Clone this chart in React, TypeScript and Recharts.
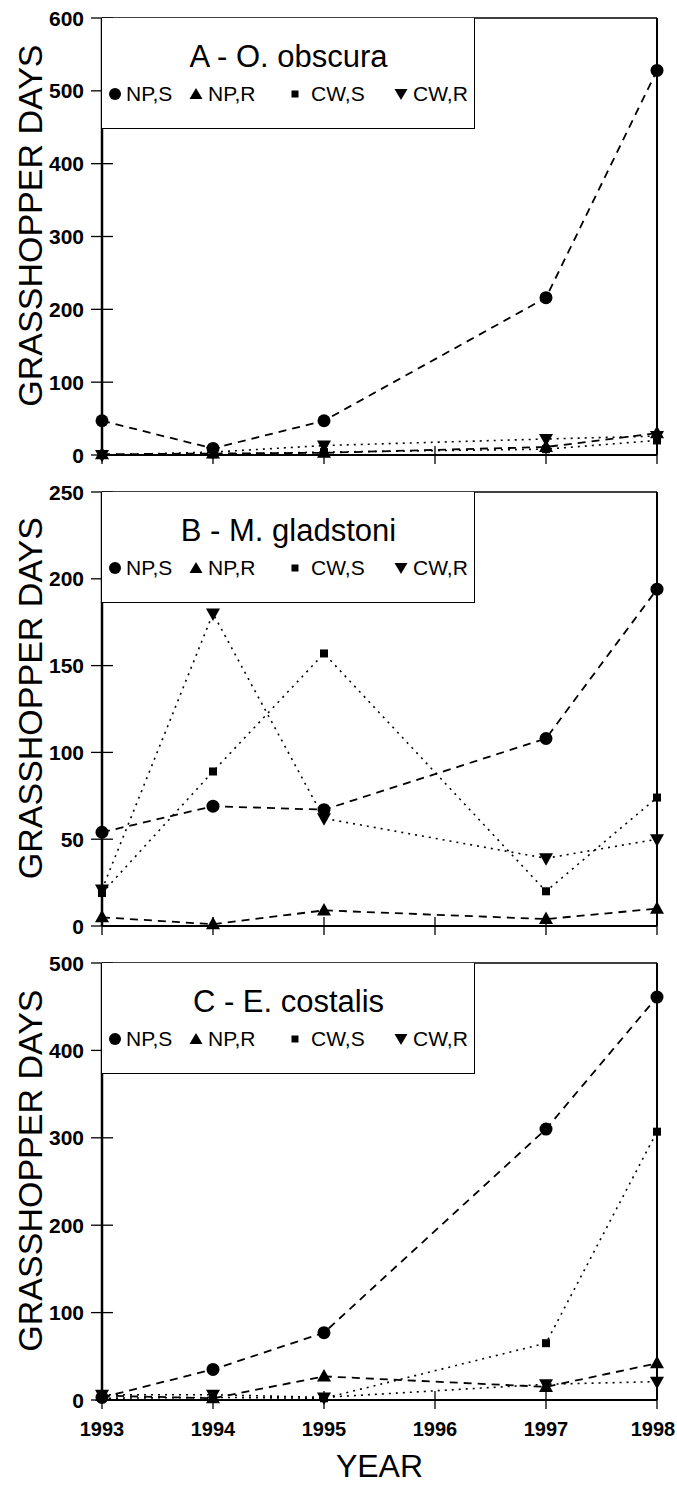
import React from "react";
import { LineChart, Line, XAxis, YAxis, ReferenceLine } from "recharts";

// x positions (1996 has a tick but no samples)
const years = [1993, 1994, 1995, 1997, 1998];
const yearTicks = [1993, 1994, 1995, 1996, 1997, 1998];

// A - O. obscura
const aNpS = [47, 9, 47, 216, 528];
const aNpR = [1, 2, 3, 11, 30];
const aCwS = [0, 1, 4, 8, 20];
const aCwR = [0, 4, 13, 22, 26];
const aTicks = [0, 100, 200, 300, 400, 500, 600];

// B - M. gladstoni
const bNpS = [54, 69, 67, 108, 194];
const bNpR = [5, 1, 9, 4, 10];
const bCwS = [19, 89, 157, 20, 74];
const bCwR = [21, 180, 62, 39, 50];
const bTicks = [0, 50, 100, 150, 200, 250];

// C - E. costalis
const cNpS = [3, 35, 77, 310, 461];
const cNpR = [5, 2, 27, 15, 42];
const cCwS = [2, 3, 2, 65, 307];
const cCwR = [6, 6, 3, 18, 21];
const cTicks = [0, 100, 200, 300, 400, 500];

const FONT = "'Liberation Sans', Arial, Helvetica, sans-serif";
const W = 677;
const PLOT_LEFT = 102;
const PLOT_RIGHT = 657;

const toRows = (npS: number[], npR: number[], cwS: number[], cwR: number[]) =>
  years.map((year, i) => ({ year, npS: npS[i], npR: npR[i], cwS: cwS[i], cwR: cwR[i] }));

// markers
const Dot = (p: any) => <circle key={p.index} cx={p.cx} cy={p.cy} r={6.5} fill="#000" />;
const Up = (p: any) => (
  <polygon key={p.index} points={`${p.cx},${p.cy - 7.5} ${p.cx - 7},${p.cy + 5} ${p.cx + 7},${p.cy + 5}`} fill="#000" />
);
const Sq = (p: any) => <rect key={p.index} x={p.cx - 4} y={p.cy - 4} width={8} height={8} fill="#000" />;
const Down = (p: any) => (
  <polygon key={p.index} points={`${p.cx - 7},${p.cy - 5} ${p.cx + 7},${p.cy - 5} ${p.cx},${p.cy + 7.5}`} fill="#000" />
);

const YTick = (props: any) => {
  const { x, y, payload } = props;
  const ax = x + 18;
  return (
    <g>
      <line x1={ax - 11} x2={ax + 11} y1={y} y2={y} stroke="#000" strokeWidth={1.3} />
      <text x={x} y={y} textAnchor="end" dominantBaseline="central" fontSize={21} fontWeight="bold" fontFamily={FONT} fill="#000">
        {payload.value}
      </text>
    </g>
  );
};

const makeXTick = (showLabel: boolean) => (props: any) => {
  const { x, y, payload } = props;
  const ay = y - 9;
  const last = payload.value === yearTicks[yearTicks.length - 1];
  return (
    <g>
      <line x1={x} x2={x} y1={ay - 9} y2={ay + 9} stroke="#000" strokeWidth={1.3} />
      {showLabel && (
        <text
          x={last ? x - 4 : x}
          y={ay + 29}
          textAnchor="middle"
          dominantBaseline="central"
          fontSize={20}
          fontWeight="bold"
          fontFamily={FONT}
          fill="#000"
        >
          {payload.value}
        </text>
      )}
    </g>
  );
};

const YLabel = (props: any) => {
  const vb = props.viewBox;
  const cx = 30;
  const cy = vb.y + vb.height * 0.475;
  return (
    <text x={cx} y={cy} transform={`rotate(-90 ${cx} ${cy})`} textAnchor="middle" dominantBaseline="central" fontSize={34} fontFamily={FONT} fill="#000">
      GRASSHOPPER DAYS
    </text>
  );
};

const XLabel = (props: any) => {
  const vb = props.viewBox;
  return (
    <text x={vb.x + vb.width / 2} y={vb.y + 66} textAnchor="middle" dominantBaseline="central" fontSize={32} fontFamily={FONT} fill="#000">
      YEAR
    </text>
  );
};

const legendItems = [
  { label: "NP,S", marker: "dot", mx: 13, tx: 24 },
  { label: "NP,R", marker: "up", mx: 94, tx: 106 },
  { label: "CW,S", marker: "sq", mx: 193, tx: 209 },
  { label: "CW,R", marker: "down", mx: 299, tx: 311 },
];

const LegendMarker = ({ kind }: { kind: string }) => (
  <svg width={16} height={16} style={{ display: "block" }}>
    {kind === "dot" && <circle cx={8} cy={8} r={6} fill="#000" />}
    {kind === "up" && <polygon points="8,2 1.5,13 14.5,13" fill="#000" />}
    {kind === "sq" && <rect x={4.5} y={4.5} width={7} height={7} fill="#000" />}
    {kind === "down" && <polygon points="1.5,3 14.5,3 8,14" fill="#000" />}
  </svg>
);

interface PanelProps {
  title: string;
  rows: any[];
  ticks: number[];
  top: number;
  height: number;
  plotTop: number;
  plotHeight: number;
  bottomLabels?: boolean;
}

function Panel({ title, rows, ticks, top, height, plotTop, plotHeight, bottomLabels }: PanelProps) {
  const xAxisHeight = height - plotTop - plotHeight;
  const maxY = ticks[ticks.length - 1];
  return (
    <div style={{ position: "absolute", left: 0, top, width: W, height }}>
      <LineChart width={W} height={height} data={rows} margin={{ top: plotTop, right: W - PLOT_RIGHT, bottom: 0, left: 0 }}>
        <XAxis
          dataKey="year"
          type="number"
          domain={[1993, 1998]}
          ticks={yearTicks}
          height={xAxisHeight}
          tickSize={9}
          tickMargin={0}
          tickLine={false}
          axisLine={{ stroke: "#000", strokeWidth: 2.2 }}
          tick={makeXTick(!!bottomLabels)}
          interval={0}
          label={bottomLabels ? <XLabel /> : undefined}
        />
        <YAxis
          type="number"
          domain={[0, maxY]}
          ticks={ticks}
          width={PLOT_LEFT}
          tickSize={11}
          tickMargin={7}
          tickLine={false}
          axisLine={{ stroke: "#000", strokeWidth: 2.5 }}
          tick={<YTick />}
          interval={0}
          label={<YLabel />}
        />
        <ReferenceLine y={maxY} stroke="#000" strokeWidth={1.5} />
        <ReferenceLine x={1998} stroke="#000" strokeWidth={2} />
        <Line dataKey="cwS" type="linear" stroke="#000" strokeWidth={1.6} strokeDasharray="2 5" dot={Sq} isAnimationActive={false} />
        <Line dataKey="cwR" type="linear" stroke="#000" strokeWidth={1.6} strokeDasharray="2 5" dot={Down} isAnimationActive={false} />
        <Line dataKey="npR" type="linear" stroke="#000" strokeWidth={1.8} strokeDasharray="8 6" dot={Up} isAnimationActive={false} />
        <Line dataKey="npS" type="linear" stroke="#000" strokeWidth={1.8} strokeDasharray="8 6" dot={Dot} isAnimationActive={false} />
      </LineChart>
      <div
        style={{
          position: "absolute",
          left: PLOT_LEFT,
          top: plotTop,
          width: 373,
          height: 111,
          borderRight: "1.5px solid #000",
          borderBottom: "1.5px solid #000",
          background: "#fff",
          boxSizing: "border-box",
          fontFamily: FONT,
          color: "#000",
        }}
      >
        <div style={{ position: "absolute", left: 0, width: 373, top: 20, textAlign: "center", fontSize: 31, lineHeight: "38px" }}>
          {title}
        </div>
        {legendItems.map((it) => (
          <React.Fragment key={it.label}>
            <div style={{ position: "absolute", left: it.mx - 8, top: 68 }}>
              <LegendMarker kind={it.marker} />
            </div>
            <div style={{ position: "absolute", left: it.tx, top: 63, fontSize: 21, lineHeight: "26px" }}>{it.label}</div>
          </React.Fragment>
        ))}
      </div>
    </div>
  );
}

export default function App() {
  return (
    <div style={{ position: "absolute", left: 0, top: 0, width: W, height: 1492, background: "#fff" }}>
      <Panel title="A - O. obscura" rows={toRows(aNpS, aNpR, aCwS, aCwR)} ticks={aTicks} top={0} height={480} plotTop={18} plotHeight={437} />
      <Panel title="B - M. gladstoni" rows={toRows(bNpS, bNpR, bCwS, bCwR)} ticks={bTicks} top={470} height={480} plotTop={22} plotHeight={434} />
      <Panel title="C - E. costalis" rows={toRows(cNpS, cNpR, cCwS, cCwR)} ticks={cTicks} top={940} height={552} plotTop={23} plotHeight={437} bottomLabels />
    </div>
  );
}
